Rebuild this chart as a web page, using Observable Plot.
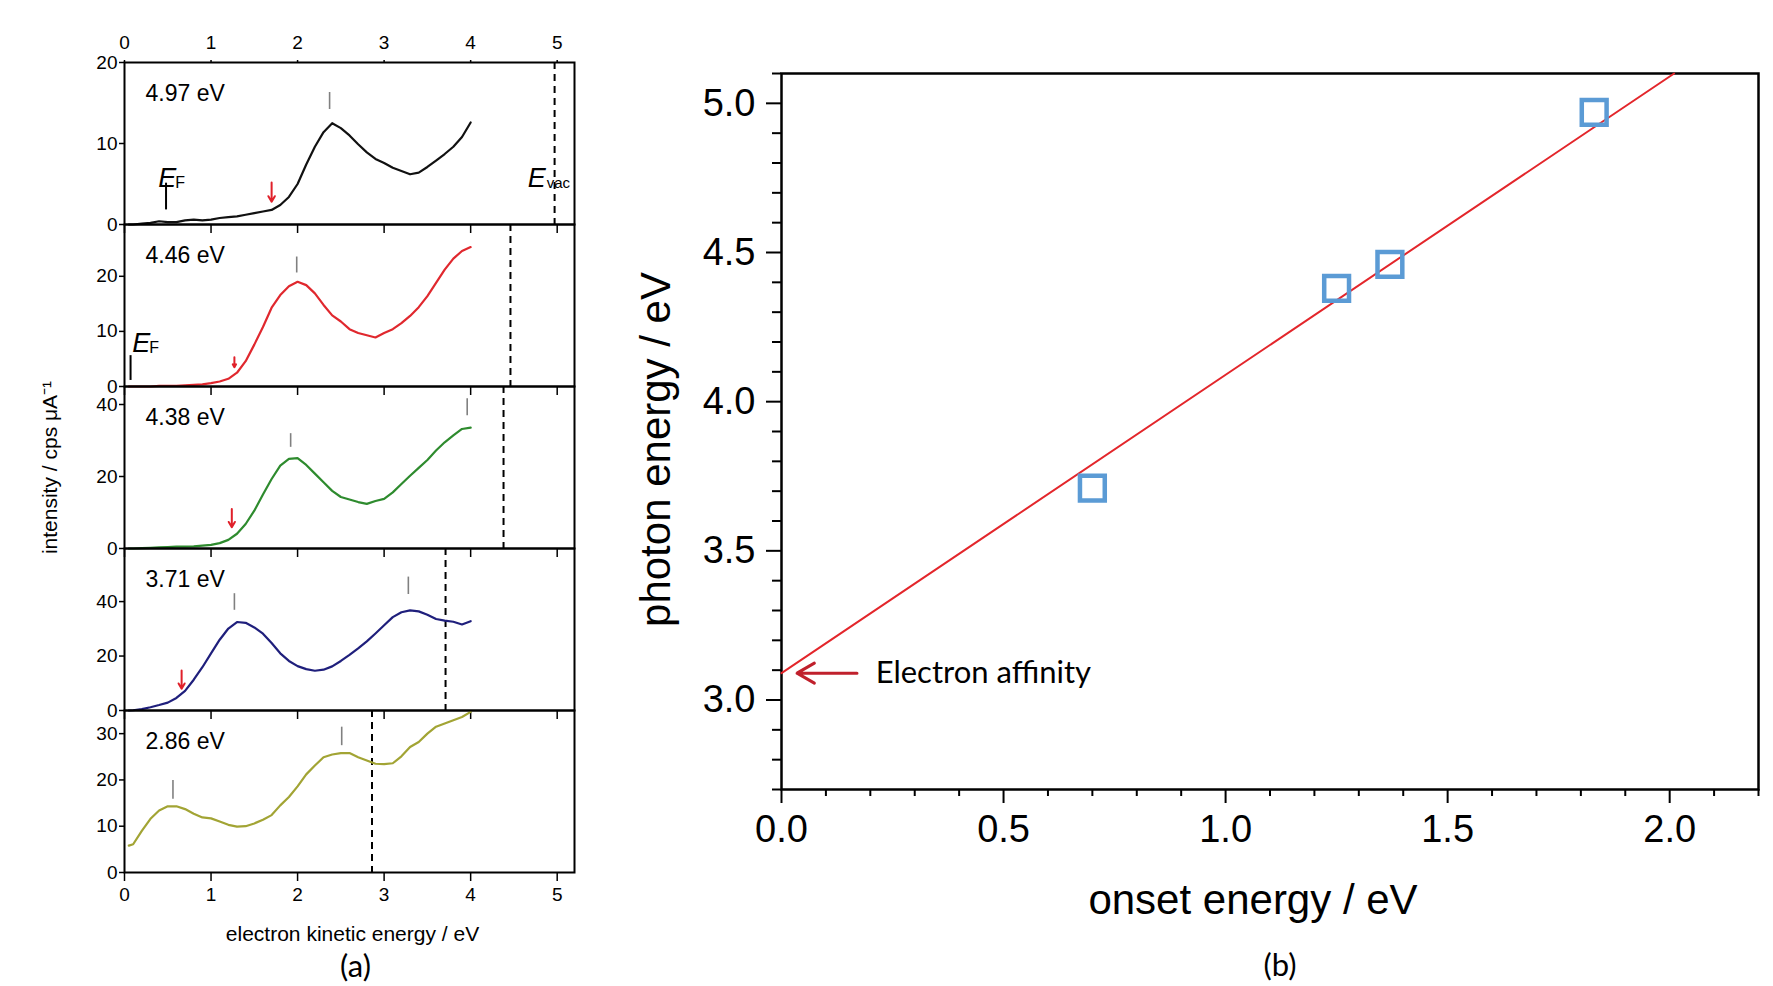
<!DOCTYPE html>
<html><head><meta charset="utf-8">
<script src="https://cdn.jsdelivr.net/npm/d3@7"></script>
<script src="https://cdn.jsdelivr.net/npm/@observablehq/plot@0.6"></script>
<style>
html,body{margin:0;padding:0;background:#fff;overflow:hidden}
#fig{position:relative;width:1773px;height:986px;background:#fff}
#fig svg{position:absolute;left:0;top:0;overflow:visible}
</style></head><body><div id="fig"></div>
<script>
// ---------- Panel (a) data ----------
const photonEnergies = [4.97, 4.46, 4.38, 3.71, 2.86];
const panelLabels = ["4.97 eV", "4.46 eV", "4.38 eV", "3.71 eV", "2.86 eV"];
const spectrumColors = ["#111111", "#e0282e", "#2e8b2e", "#1f1f7c", "#a2a434"];
const panelYMax = [20, 29.4, 45, 59.5, 35];
const panelYTicks = [[0, 10, 20], [0, 10, 20], [0, 20, 40], [0, 20, 40], [0, 10, 20, 30]];
const kineticTicks = [0, 1, 2, 3, 4, 5];

const kineticEnergy = [0.05, 0.1, 0.2, 0.3, 0.4, 0.5, 0.6, 0.7, 0.8, 0.9, 1.0, 1.1, 1.2, 1.3, 1.4, 1.5, 1.6, 1.7, 1.8, 1.9, 2.0,
  2.1, 2.2, 2.3, 2.4, 2.5, 2.6, 2.7, 2.8, 2.9, 3.0, 3.1, 3.2, 3.3, 3.4, 3.5, 3.6, 3.7, 3.8, 3.9, 4.0];
const intensity497 = [0.0, 0.0, 0.1, 0.2, 0.4, 0.3, 0.3, 0.5, 0.6, 0.5, 0.6, 0.8, 0.9, 1.0, 1.2, 1.4, 1.6, 1.8, 2.4, 3.4, 5.0,
  7.4, 9.6, 11.4, 12.5, 11.9, 11.0, 9.9, 8.9, 8.1, 7.6, 7.0, 6.6, 6.2, 6.4, 7.1, 7.9, 8.7, 9.6, 10.8, 12.6];
const intensity446 = [0.0, 0.0, 0.0, 0.0, 0.1, 0.1, 0.1, 0.2, 0.3, 0.4, 0.6, 0.9, 1.4, 2.5, 4.6, 7.6, 10.8, 14.3, 16.6, 18.2, 19.0,
  18.4, 16.9, 14.8, 12.9, 11.8, 10.4, 9.7, 9.3, 8.9, 9.7, 10.4, 11.5, 12.8, 14.4, 16.4, 18.8, 21.2, 23.2, 24.6, 25.3];
const intensity438 = [0.0, 0.0, 0.1, 0.2, 0.3, 0.4, 0.5, 0.5, 0.6, 0.8, 1.0, 1.5, 2.4, 4.1, 6.8, 10.5, 15.0, 19.3, 23.0, 24.9, 25.1,
  23.2, 20.8, 18.4, 16.0, 14.3, 13.6, 12.9, 12.4, 13.2, 13.8, 15.6, 17.9, 20.2, 22.4, 24.6, 27.2, 29.5, 31.4, 33.2, 33.6];
const intensity371 = [0.0, 0.1, 0.5, 1.2, 2.0, 2.9, 4.6, 7.2, 11.3, 15.9, 21.0, 26.0, 30.1, 32.5, 32.2, 30.5, 28.2, 24.8, 21.0, 18.2, 16.3,
  15.2, 14.6, 15.0, 16.2, 18.2, 20.4, 22.8, 25.4, 28.3, 31.3, 34.3, 36.1, 36.8, 36.4, 35.2, 33.6, 33.0, 32.6, 31.6, 32.8];
const intensity286 = [5.8, 6.1, 9.0, 11.6, 13.4, 14.3, 14.3, 13.7, 12.7, 11.9, 11.7, 11.0, 10.3, 9.9, 10.0, 10.6, 11.4, 12.4, 14.5, 16.3, 18.6,
  21.2, 23.1, 24.9, 25.5, 25.8, 25.8, 24.9, 24.2, 23.5, 23.4, 23.6, 25.1, 27.1, 28.2, 30.0, 31.5, 32.2, 32.9, 33.6, 34.7];
const intensities = [intensity497, intensity446, intensity438, intensity371, intensity286];

// onset arrows (red), per panel (panel 5 has none)
const onsetArrowPanel = [0, 1, 2, 3];
const onsetArrowX = [1.70, 1.27, 1.24, 0.66];
const onsetArrowTop = [5.2, 5.3, 11.0, 14.7];
const onsetArrowBottom = [2.8, 3.5, 5.9, 8.0];

// grey peak markers
const peakPanel = [0, 1, 2, 2, 3, 3, 4, 4];
const peakX = [2.37, 1.99, 1.92, 3.96, 1.27, 3.28, 0.56, 2.51];
const peakLow = [14.2, 20.6, 28.1, 36.9, 36.8, 42.6, 15.8, 27.4];
const peakHigh = [16.3, 23.5, 31.9, 41.6, 42.9, 49.0, 19.9, 31.4];

// Fermi level / vacuum level annotations
const fermiPanel = [0, 1];
const fermiX = [0.48, 0.07];
const fermiBarLow = [1.8, 1.1];
const fermiBarHigh = [5.1, 5.6];
const fermiLabelX = [0.39, 0.09];
const fermiLabelY = [4.65, 6.3];
const vacLabelX = 4.66;
const vacLabelY = 4.6;

// ---------- Panel (b) data ----------
const onsetEnergy = [0.70, 1.25, 1.37, 1.83];
const photonEnergy = [3.71, 4.38, 4.46, 4.97];
const fitSlope = 1.0;
const fitIntercept = 3.09;
const onsetTicks = [0, 0.5, 1.0, 1.5, 2.0];
const photonTicks = [3.0, 3.5, 4.0, 4.5, 5.0];
const affinityArrowX = [0.17, 0.035];
const affinityLabelX = 0.212;

// ---------- layout ----------
const W = 1773, H = 986;
const fig = document.getElementById("fig");
const aLeft = 124, aRight = 574;
const panelTop = [62, 224, 386, 548, 710];
const panelBottom = [224, 386, 548, 710, 872];
const arial = "'Liberation Sans', Arial, Helvetica, sans-serif";
const calibri = "Lato, 'Open Sans', sans-serif";

for (let i = 0; i < 5; i++) {
  const series = kineticEnergy.map((x, j) => ({x, y: intensities[i][j]}));
  const arrows = onsetArrowPanel.map((p, k) => ({p, x: onsetArrowX[k], y1: onsetArrowTop[k], y2: onsetArrowBottom[k]})).filter(d => d.p === i);
  const peaks = peakPanel.map((p, k) => ({p, x: peakX[k], y1: peakLow[k], y2: peakHigh[k]})).filter(d => d.p === i);
  const fermi = fermiPanel.map((p, k) => ({p, x: fermiX[k], y1: fermiBarLow[k], y2: fermiBarHigh[k], lx: fermiLabelX[k], ly: fermiLabelY[k]})).filter(d => d.p === i);

  const marks = [
    Plot.ruleX([photonEnergies[i]], {stroke: "#000", strokeWidth: 2, strokeDasharray: "7,5"}),
    Plot.line(series, {x: "x", y: "y", stroke: spectrumColors[i], strokeWidth: 2.2}),
    Plot.ruleX(peaks, {x: "x", y1: "y1", y2: "y2", stroke: "#808080", strokeWidth: 1.6}),
    Plot.arrow(arrows, {x1: "x", x2: "x", y1: "y1", y2: "y2", stroke: "#e0202a", strokeWidth: 2, headLength: 6, bend: 0}),
    Plot.ruleX(fermi, {x: "x", y1: "y1", y2: "y2", stroke: "#000", strokeWidth: 2}),
    Plot.text(fermi, {x: "lx", y: "ly", text: () => "E", textAnchor: "start", lineAnchor: "bottom", fontStyle: "italic", fontSize: 27, fontFamily: arial}),
    Plot.text(fermi, {x: "lx", y: "ly", text: () => "F", textAnchor: "start", lineAnchor: "bottom", dx: 17, dy: 1, fontSize: 16, fontFamily: arial}),
    Plot.text([panelLabels[i]], {text: d => d, frameAnchor: "top-left", dx: 21, dy: 31, lineAnchor: "middle", textAnchor: "start", fontSize: 23, fontFamily: arial}),
    Plot.frame({stroke: "#000", strokeWidth: 2}),
    Plot.axisY({ticks: panelYTicks[i], tickSize: 5, tickPadding: 2, strokeWidth: 1.5, tickFormat: "d", label: null}),
    Plot.axisX({ticks: kineticTicks, anchor: "bottom", tickSize: 9, tickPadding: 6, strokeWidth: 1.5,
      tickFormat: i === 4 ? "d" : () => "", label: null})
  ];
  if (i === 0) {
    marks.push(Plot.axisX({ticks: kineticTicks, anchor: "top", tickSize: 3, tickPadding: 11, strokeWidth: 1.5, tickFormat: "d", label: null}));
    marks.push(Plot.text([vacLabelX], {x: d => d, y: () => vacLabelY, text: () => "E", textAnchor: "start", lineAnchor: "bottom", fontStyle: "italic", fontSize: 27, fontFamily: arial}));
    marks.push(Plot.text([vacLabelX], {x: d => d, y: () => vacLabelY, text: () => "vac", textAnchor: "start", lineAnchor: "bottom", dx: 19, dy: 1, fontSize: 15, fontFamily: arial}));
  }
  if (i === 2) {
    marks.push(Plot.text(["intensity / cps \u03bcA\u207b\u00b9"], {text: d => d, frameAnchor: "left", textAnchor: "middle", dx: -74, rotate: -90, fontSize: 21, fontFamily: arial}));
  }
  if (i === 4) {
    marks.push(Plot.text(["electron kinetic energy / eV"], {text: d => d, frameAnchor: "bottom", dx: 3, dy: 68, lineAnchor: "bottom", fontSize: 21, fontFamily: arial}));
    marks.push(Plot.text(["(a)"], {text: d => d, frameAnchor: "bottom", dx: 6, dy: 104, lineAnchor: "bottom", fontSize: 31, fontFamily: calibri}));
  }
  const svg = Plot.plot({
    width: W, height: H,
    marginLeft: aLeft, marginRight: W - aRight,
    marginTop: panelTop[i], marginBottom: H - panelBottom[i],
    x: {domain: [0, 5.2]},
    y: {domain: [0, panelYMax[i]]},
    style: {fontFamily: arial, fontSize: "19px", color: "#000", background: "transparent", overflow: "visible"},
    marks
  });
  fig.append(svg);
}

// ---------- Panel (b) ----------
const bYDomain = [2.7, 5.1];
const bXDomain = [0, 2.2];
const points = onsetEnergy.map((x, k) => ({x, y: photonEnergy[k]}));
const fitLine = [
  {x: 0, y: fitIntercept},
  {x: (bYDomain[1] - fitIntercept) / fitSlope, y: bYDomain[1]}
];
const round1 = v => Math.round(v * 10) / 10;
const minorX = d3.range(0, 22.01, 1).map(v => round1(v / 10)).filter(v => !onsetTicks.some(t => Math.abs(t - v) < 1e-6));
const minorY = d3.range(27, 51.01, 1).map(v => round1(v / 10)).filter(v => !photonTicks.some(t => Math.abs(t - v) < 1e-6));

const bLeft = 781, bRight = 1758, bTop = 73, bBottom = 789;
const svgB = Plot.plot({
  width: W, height: H,
  marginLeft: bLeft, marginRight: W - bRight, marginTop: bTop, marginBottom: H - bBottom,
  x: {domain: bXDomain},
  y: {domain: bYDomain},
  style: {fontFamily: arial, fontSize: "38px", color: "#000", background: "transparent", overflow: "visible"},
  marks: [
    Plot.axisX({ticks: onsetTicks, tickSize: 14, tickPadding: 12, tickFormat: ".1f", strokeWidth: 2, label: null}),
    Plot.axisX({ticks: minorX, tickSize: 7, tickFormat: () => "", strokeWidth: 2, label: null}),
    Plot.axisY({ticks: photonTicks, tickSize: 15, tickPadding: 11, tickFormat: ".1f", strokeWidth: 2, label: null}),
    Plot.axisY({ticks: minorY, tickSize: 9, tickFormat: () => "", strokeWidth: 2, label: null}),
    Plot.frame({stroke: "#000", strokeWidth: 2.5}),
    Plot.line(fitLine, {x: "x", y: "y", stroke: "#e3262b", strokeWidth: 2}),
    Plot.dot(points, {x: "x", y: "y", symbol: "square", r: 14, stroke: "#5b9bd5", strokeWidth: 4.5, fill: "none"}),
    Plot.arrow([{x1: affinityArrowX[0], x2: affinityArrowX[1], y: fitIntercept}], {x1: "x1", x2: "x2", y1: "y", y2: "y", stroke: "#c0202c", strokeWidth: 3, headLength: 12, bend: 0}),
    Plot.text(["Electron affinity"], {text: d => d, x: () => affinityLabelX, y: () => fitIntercept, textAnchor: "start", lineAnchor: "middle", fontSize: 31, fontFamily: calibri}),
    Plot.text(["photon energy / eV"], {text: d => d, frameAnchor: "left", textAnchor: "middle", dx: -125, dy: 18, rotate: -90, fontSize: 42, fontFamily: arial}),
    Plot.text(["onset energy / eV"], {text: d => d, frameAnchor: "bottom", dx: -17, dy: 124, lineAnchor: "bottom", fontSize: 42, fontFamily: arial}),
    Plot.text(["(b)"], {text: d => d, frameAnchor: "bottom", dx: 10, dy: 186, lineAnchor: "bottom", fontSize: 31, fontFamily: calibri})
  ]
});
fig.append(svgB);
</script>
</body></html>
